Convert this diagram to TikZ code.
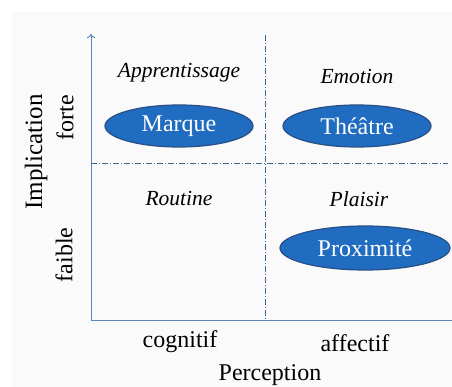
\documentclass[tikz,border=0pt]{standalone}
\usepackage{fontspec}
\setmainfont{Liberation Serif}
\usetikzlibrary{arrows.meta,shapes.geometric}
\definecolor{axisblue}{HTML}{5F87B3}
\definecolor{gridblue}{HTML}{3A6A96}
\definecolor{ovalfill}{HTML}{1F6CC0}
\definecolor{ovaledge}{HTML}{2A4F85}
\begin{document}
\begin{tikzpicture}[x=1pt,y=-1pt,
  quadlabel/.style={font=\itshape\fontsize{21.5}{24}\selectfont, text=black},
  oval/.style={ellipse, draw=ovaledge, line width=1.2pt, fill=ovalfill, text=white,
    font=\fontsize{24}{28}\selectfont, inner sep=0pt},
  axislabel/.style={font=\fontsize{24}{28}\selectfont, text=black},
  divider/.style={draw=gridblue, line width=0.7pt, dash pattern=on 6pt off 2pt on 1pt off 2pt}]
\useasboundingbox (0,0) rectangle (452,387);
\fill[black!2] (12,12) rectangle (452,387);

% axes
\coordinate (origin) at (91,320);
\coordinate (ytop) at (91,34);
\coordinate (xend) at (452,320);
\draw[axisblue, line width=1pt, -{To[length=4pt,width=8pt]}] (origin) -- (ytop);
\draw[axisblue, line width=1pt] (origin) -- (xend);

% quadrant dividers
\coordinate (vtop) at (265,35);
\coordinate (vbot) at (265,320);
\coordinate (hleft) at (91,163);
\coordinate (hright) at (448,163);
\draw[divider] (vtop) -- (vbot);
\draw[divider] (hleft) -- (hright);

% quadrant titles
\node[quadlabel] (appr) at (179,73) {Apprentissage};
\node[quadlabel] (emo) at (357,76) {Emotion};
\node[quadlabel] (rout) at (179,199) {Routine};
\node[quadlabel] (plai) at (359,199) {Plaisir};

% items
\node[oval, minimum width=148pt, minimum height=42pt] (marque) at (179,126) {Marque};
\node[oval, minimum width=148pt, minimum height=42pt] (theatre) at (357,126) {Théâtre};
\node[oval, minimum width=170pt, minimum height=44pt] (prox) at (365,248) {Proximité};

% axis labels
\node[axislabel, rotate=90] (forte) at (65,118) {forte};
\node[axislabel, rotate=90] (faible) at (64,255) {faible};
\node[axislabel, rotate=90, font=\fontsize{25}{30}\selectfont] (impl) at (36,152) {Implication};
\node[axislabel] (cog) at (180,342) {cognitif};
\node[axislabel] (aff) at (355,343) {affectif};
\node[axislabel] (perc) at (270,375) {Perception};
\end{tikzpicture}
\end{document}
